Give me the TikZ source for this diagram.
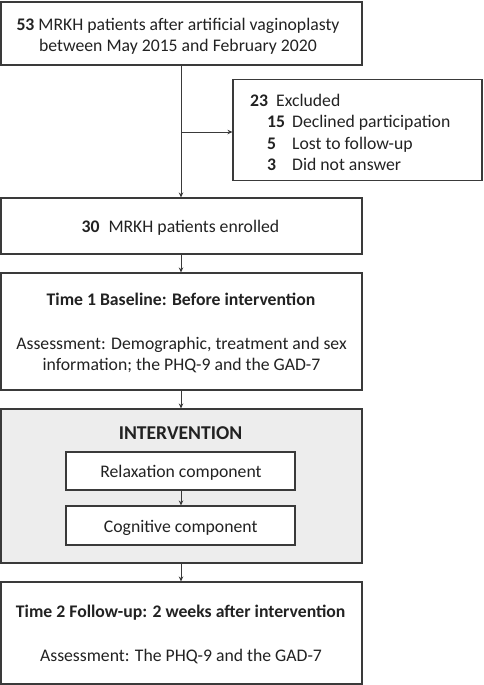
\documentclass[tikz,border=0pt]{standalone}
\usepackage{fontspec}
\setmainfont{Carlito}
\usetikzlibrary{arrows.meta}
\definecolor{boxc}{HTML}{3A3A3A}
\definecolor{txtc}{HTML}{222222}
\definecolor{grayfill}{HTML}{EDEDED}
\begin{document}
\begin{tikzpicture}[x=1pt,y=-1pt,
  box/.style={draw=boxc,line width=1.1pt,inner sep=0pt,fill=white},
  arr/.style={draw=boxc,line width=0.8pt,-{Stealth[length=5pt,width=4.5pt]}},
  txt/.style={inner sep=0pt,anchor=base,text=txtc,font=\fontsize{17.7}{21}\selectfont},
  txtl/.style={txt,anchor=base west},
  big/.style={inner sep=0pt,anchor=base,text=txtc,font=\fontsize{19.6}{23}\selectfont\bfseries}]
\useasboundingbox (0,0) rectangle (484,685);
% boxes
\node[box,minimum width=361pt,minimum height=63pt] (b1) at (181.5,33.5) {};
\node[box,minimum width=249pt,minimum height=101pt] (ex) at (357.5,130) {};
\node[box,minimum width=361pt,minimum height=56pt] (b2) at (181.5,226) {};
\node[box,minimum width=361pt,minimum height=117pt] (b3) at (181.5,331.5) {};
\node[box,fill=grayfill,minimum width=361pt,minimum height=154pt] (iv) at (181.5,486) {};
\node[box,minimum width=229pt,minimum height=38pt] (rx) at (180.5,471) {};
\node[box,minimum width=229pt,minimum height=39pt] (cg) at (180.5,525.5) {};
\node[box,minimum width=361pt,minimum height=102pt] (b4) at (181.5,633) {};
% texts
\node[txt] (t1a) at (178,30.7) {\textbf{53} MRKH patients after artificial vaginoplasty};
\node[txt] (t1b) at (178,51.7) {between May 2015 and February 2020};
\node[txtl] (e0n) at (250,106) {\textbf{23}};
\node[txtl] (e0t) at (276,106) {Excluded};
\node[txtl] (e1n) at (267,127.5) {\textbf{15}};
\node[txtl] (e1t) at (292,127.5) {Declined participation};
\node[txtl] (e2n) at (267,149) {\textbf{5}};
\node[txtl] (e2t) at (292,149) {Lost to follow-up};
\node[txtl] (e3n) at (267,170) {\textbf{3}};
\node[txtl] (e3t) at (292,170) {Did not answer};
\node[txt] (t2) at (180.5,232.7) {\textbf{30}\enspace MRKH patients enrolled};
\node[txt] (t3a) at (181,305) {\textbf{Time 1 Baseline: Before intervention}};
\node[txt] (t3b) at (181.5,349.3) {Assessment: Demographic, treatment and sex};
\node[txt] (t3c) at (181.5,370) {information; the PHQ-9 and the GAD-7};
\node[big] (ti) at (180.5,439.3) {INTERVENTION};
\node[txt] (trx) at (181,477.3) {Relaxation component};
\node[txt] (tcg) at (180.7,532) {Cognitive component};
\node[txt] (t4a) at (180.7,617.7) {\textbf{Time 2 Follow-up: 2 weeks after intervention}};
\node[txt] (t4b) at (181,661) {Assessment: The PHQ-9 and the GAD-7};
% connectors
\coordinate (br) at (181,132);
\draw[arr] (b1.south -| br) -- (b2.north -| br);
\draw[arr] (br) -- (br -| ex.west);
\draw[arr] (b2.south -| br) -- (b3.north -| br);
\draw[arr] (b3.south -| br) -- (iv.north -| br);
\draw[arr] (rx.south -| br) -- (cg.north -| br);
\draw[arr] (iv.south -| br) -- (b4.north -| br);
\end{tikzpicture}
\end{document}
